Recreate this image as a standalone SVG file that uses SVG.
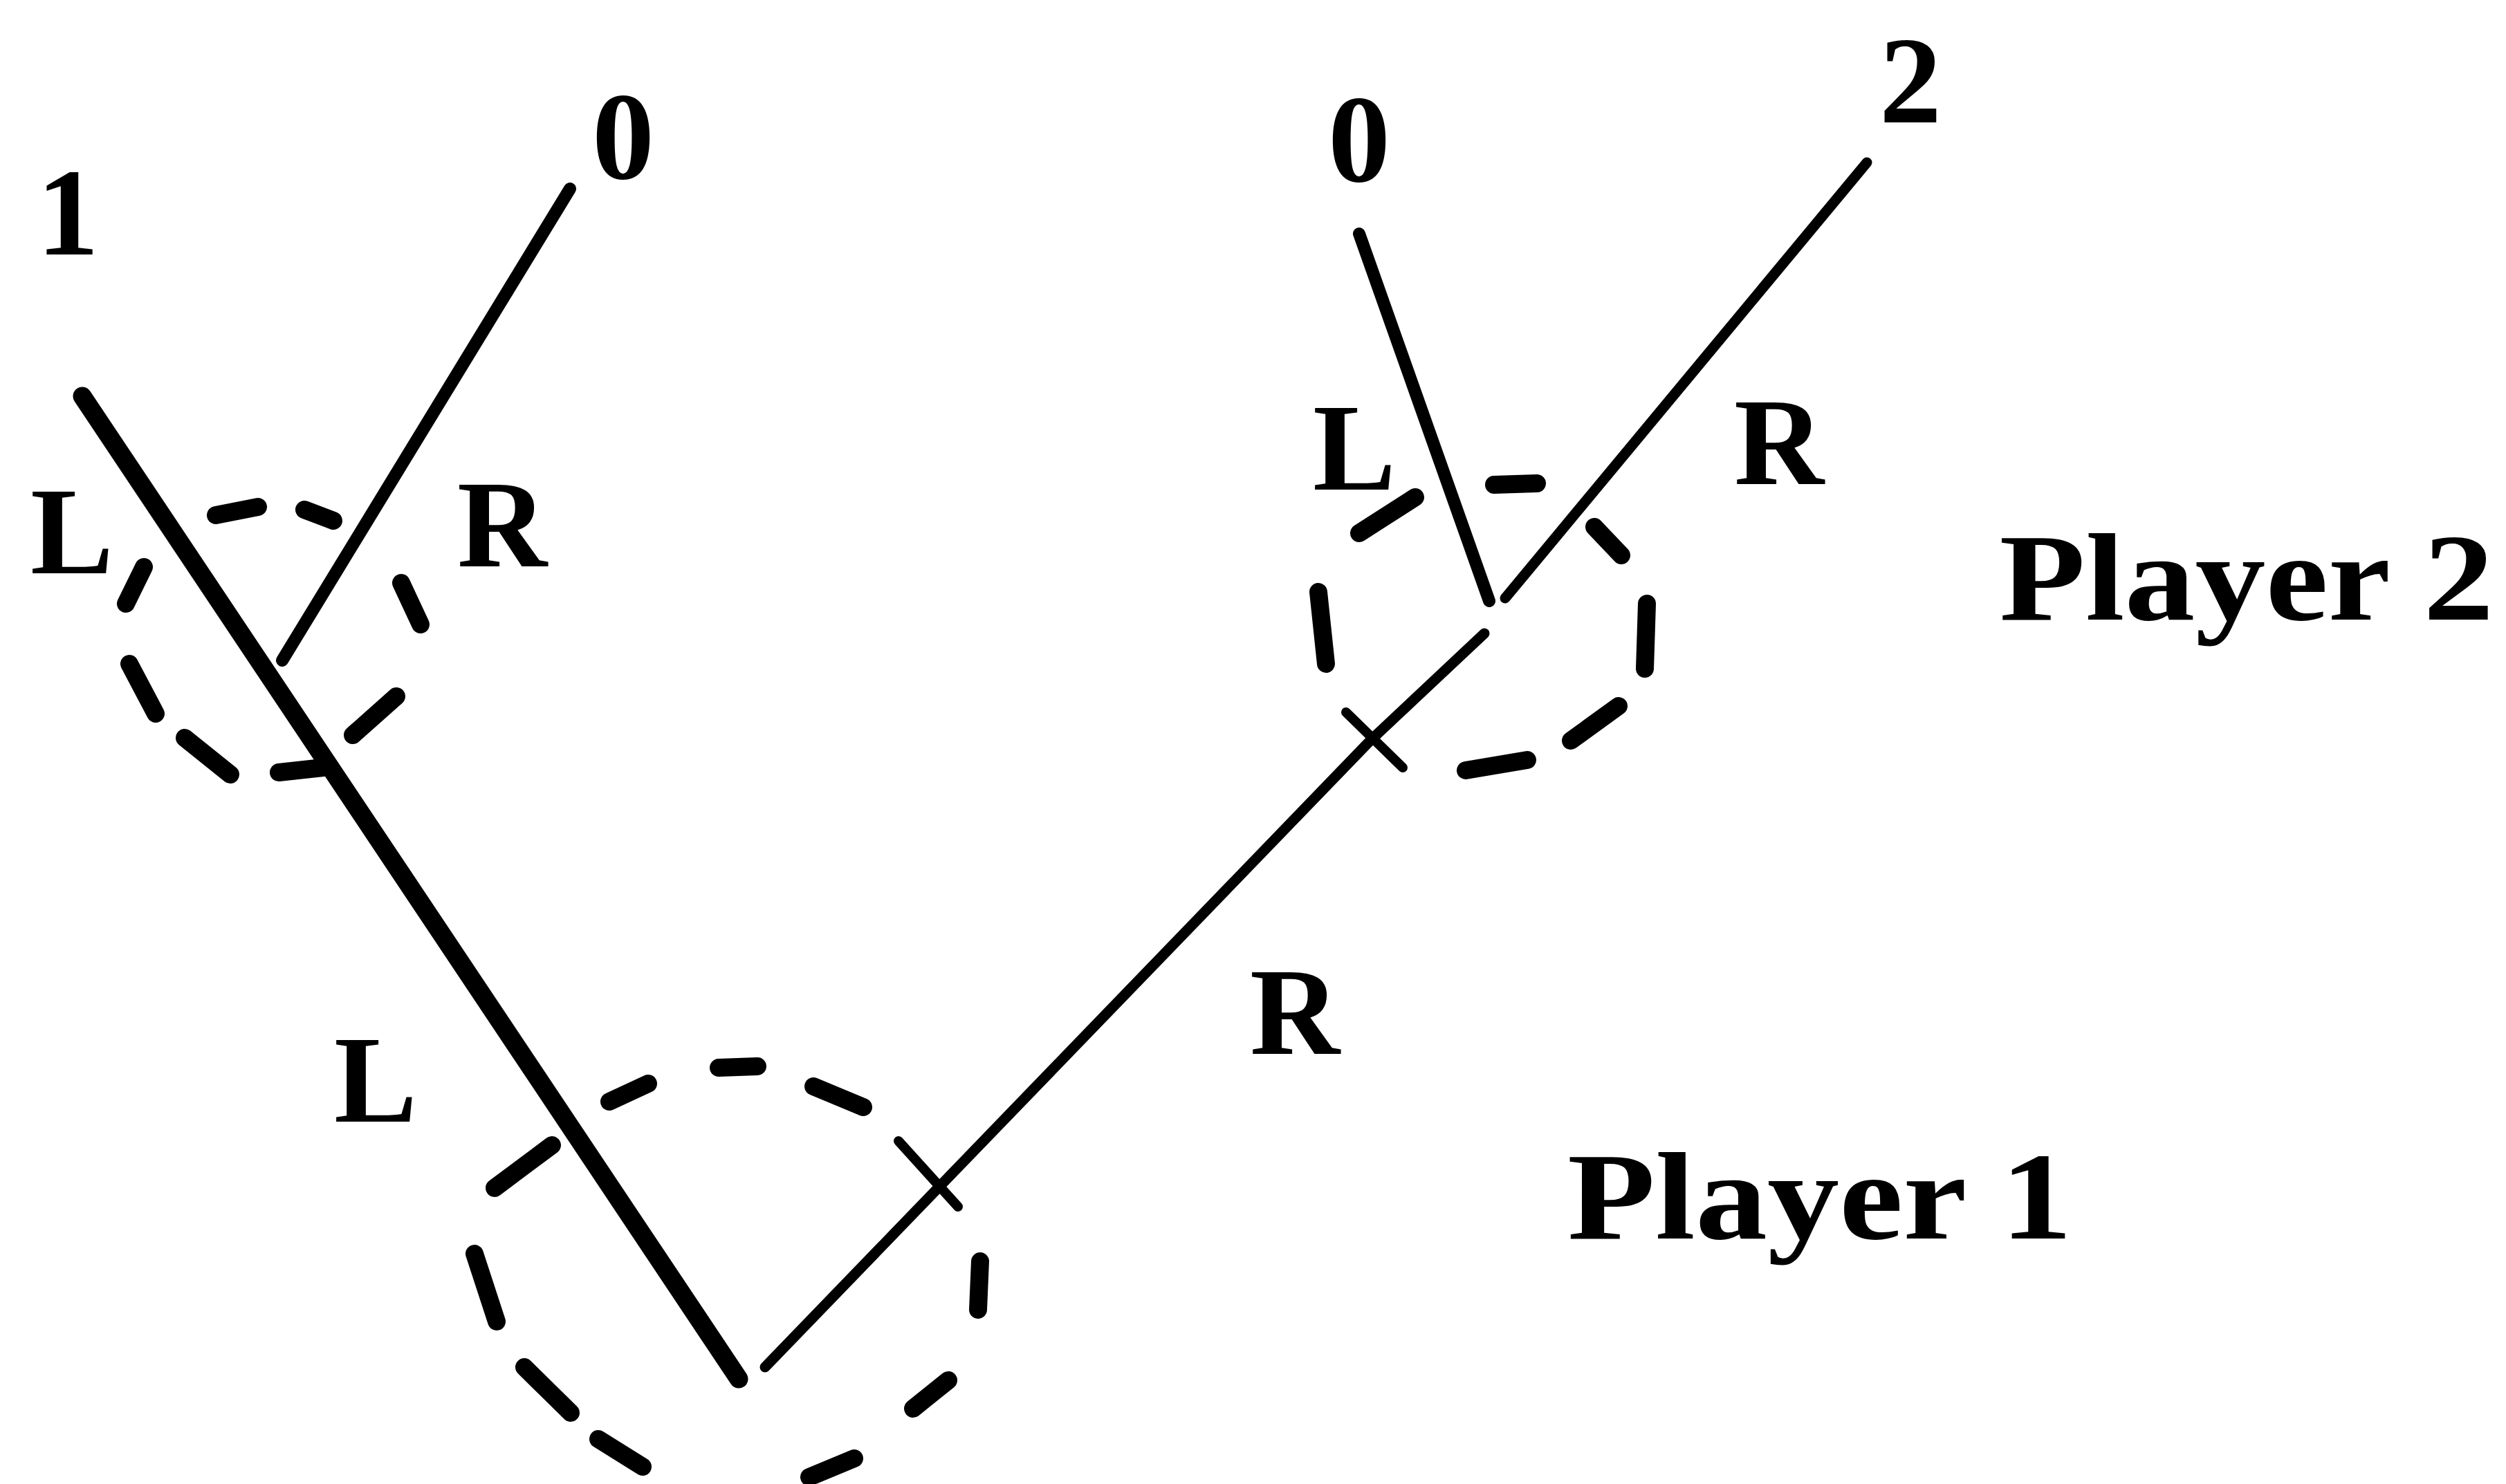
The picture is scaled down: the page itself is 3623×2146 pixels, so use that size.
<svg xmlns="http://www.w3.org/2000/svg" width="3623" height="2146" viewBox="0 0 3623 2146">
<style>
.edge{fill:none;stroke:#000;stroke-linecap:round;stroke-linejoin:round}
.dash{fill:none;stroke:#000;stroke-width:26;stroke-linecap:round}
.tick{fill:none;stroke:#000;stroke-width:14;stroke-linecap:round}
.lbl{font-family:"Liberation Serif","DejaVu Serif",serif;font-weight:bold;font-size:180px;fill:#000;text-anchor:middle}
</style>
<rect width="3623" height="2146" fill="#fff"/>
<g id="connectors">
<path class="edge" stroke-width="27" d="M119,573 L1068,1994"/>
<path class="edge" stroke-width="18" d="M824,273 L408,955"/>
<path class="edge" stroke-width="15" d="M1106,1977 L1981,1071 L2146,916"/>
<path class="edge" stroke-width="18" d="M1965,338 L2153,869"/>
<path class="edge" stroke-width="15" d="M2699,235 L2176,865"/>
</g>
<g id="node-player1">
<path class="dash" d="M1039,1544 L1095,1542 M881,1593 L937,1567 M1176,1571 L1248,1601 M715,1718 L798,1656 M686,1813 L718,1911 M758,1977 L825,2043 M865,2081 L929,2121 M1170,2136 L1235,2109 M1320,2037 L1371,1996 M1417,1824 L1414,1894 M1050,2159 L1085,2159"/>
<path class="tick" d="M1299,1650 L1385,1745"/>
<text class="lbl" x="543" y="1622">L</text>
<text class="lbl" x="1872" y="1524">R</text>
<text class="lbl" x="2631" y="1791" textLength="730" lengthAdjust="spacingAndGlyphs">Player 1</text>
</g>
<g id="node-player2-left">
<path class="dash" d="M312,745 L373,733 M440,737 L482,753 M580,843 L608,903 M510,1063 L573,1007 M403,1117 L467,1110 M267,1067 L333,1120 M187,960 L225,1032 M208,820 L182,873"/>
<text class="lbl" x="104" y="829">L</text>
<text class="lbl" x="726" y="819">R</text>
</g>
<g id="node-player2-right">
<path class="dash" d="M1965,771 L2046,719 M2160,701 L2222,699 M2305,762 L2344,803 M2381,873 L2378,967 M2271,1071 L2340,1021 M2119,1114 L2208,1099 M1906,856 L1917,960"/>
<path class="tick" d="M1946,1030 L2028,1110"/>
<text class="lbl" x="1958" y="708">L</text>
<text class="lbl" x="2572" y="700">R</text>
<text class="lbl" x="3248" y="896" textLength="715" lengthAdjust="spacingAndGlyphs">Player 2</text>
</g>
<g id="terminal-LL"><text class="lbl" x="98" y="368">1</text></g>
<g id="terminal-LR"><text class="lbl" x="901" y="258">0</text></g>
<g id="terminal-RL"><text class="lbl" x="1965" y="262">0</text></g>
<g id="terminal-RR"><text class="lbl" x="2762" y="177">2</text></g>
</svg>
